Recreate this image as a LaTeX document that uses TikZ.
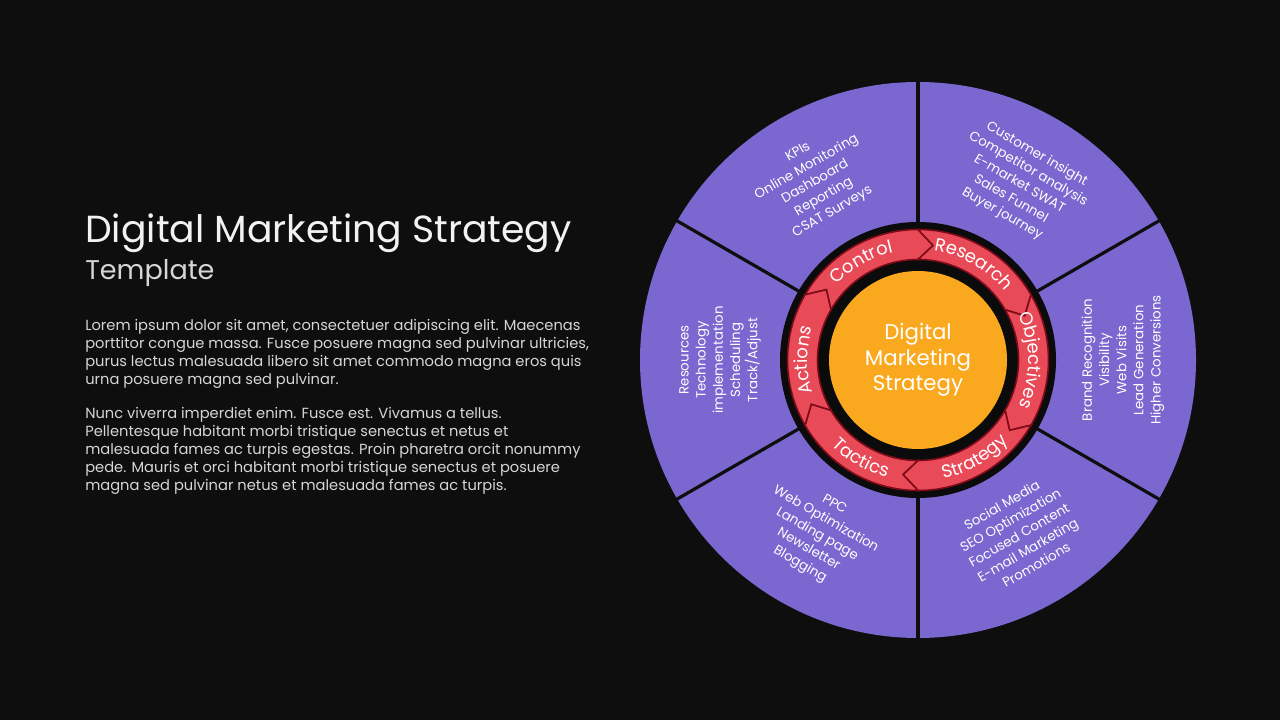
\documentclass[tikz,border=0pt]{standalone}
\usepackage{fontspec}
\setmainfont{Poppins}
\usetikzlibrary{decorations.text,calc}
\definecolor{bg}{HTML}{0E0E0E}
\definecolor{purp}{HTML}{7A67CF}
\definecolor{ringblack}{HTML}{0B0B0B}
\definecolor{redfill}{HTML}{E94A58}
\definecolor{redline}{HTML}{7E0B18}
\definecolor{orangec}{HTML}{FAA81E}
\definecolor{titlec}{HTML}{F2F2F2}
\definecolor{bodyc}{HTML}{D6D6D6}
\newcommand{\ringfont}{\fontsize{13.5}{16}\selectfont\color{white}}
\tikzset{
  sepline/.style={draw=bg, line width=2.4pt},
  redseg/.style={fill=redfill, draw=redline, line width=1.2pt, line join=miter},
  sectxt/.style={text=white, align=center, inner sep=0pt, font=\fontsize{10}{12.9}\selectfont},
  centxt/.style={text=white, align=center, inner sep=0pt, font=\fontsize{16}{19}\selectfont},
  titletxt/.style={text=titlec, inner sep=0pt, font=\fontsize{28.3}{34}\selectfont},
  subtxt/.style={text=bodyc, inner sep=0pt, font=\fontsize{20.3}{24}\selectfont},
  bodytxt/.style={text=bodyc, inner sep=0pt, align=left, font=\fontsize{11}{13.5}\selectfont},
  ringlabel/.style={decorate, decoration={text along path, text align=center, text={|\ringfont|#1}}}
}
\begin{document}
\begin{tikzpicture}[x=0.75pt,y=0.75pt]
\fill[bg] (0,0) rectangle (1280,720);
\useasboundingbox (0,0) rectangle (1280,720);
\coordinate (C) at (918,360);
% outer purple wheel
\fill[purp] (C) circle[radius=278];
\foreach \a in {30,90,150,210,270,330}
  \draw[sepline] ($(C)+(\a:130)$) -- ($(C)+(\a:280)$);
% black ring
\fill[ringblack] (C) circle[radius=138];
% red arrow segments
\foreach \s in {150,90,30,-30,-90,-150} {
  \pgfmathsetmacro\e{\s-60}
  \pgfmathsetmacro\t{\e-7.5}
  \pgfmathsetmacro\n{\s-7.5}
  \filldraw[redseg] ($(C)+(\s:130.5)$) arc[start angle=\s, end angle=\e, radius=130.5]
    -- ($(C)+(\t:115.5)$) -- ($(C)+(\e:100.5)$)
    arc[start angle=\e, end angle=\s, radius=100.5]
    -- ($(C)+(\n:115.5)$) -- cycle;
}
% centre
\fill[orangec] (C) circle[radius=89];
\node[centxt] (centre) at (C) {Digital\\Marketing\\Strategy};
% ring labels
\path[ringlabel=Control] ($(C)+(150:110.5)$) arc[start angle=150, end angle=90, radius=110.5];
\path[ringlabel=Research] ($(C)+(90:110.5)$) arc[start angle=90, end angle=30, radius=110.5];
\path[ringlabel=Objectives] ($(C)+(30:110.5)$) arc[start angle=30, end angle=-30, radius=110.5];
\path[ringlabel=Actions] ($(C)+(210:110.5)$) arc[start angle=210, end angle=150, radius=110.5];
\path[ringlabel=Strategy] ($(C)+(-90:121.5)$) arc[start angle=-90, end angle=-30, radius=121.5];
\path[ringlabel=Tactics] ($(C)+(-150:121.5)$) arc[start angle=-150, end angle=-90, radius=121.5];
% sector texts
\node[sectxt, rotate=30] (control) at ($(C)+(120:205)$) {KPIs\\Online Monitoring\\Dashboard\\Reporting\\CSAT Surveys};
\node[sectxt, rotate=-30] (research) at ($(C)+(60:203)$) {Customer insight\\Competitor analysis\\E-market SWAT\\Sales Funnel\\Buyer journey};
\node[sectxt, rotate=90] (objectives) at ($(C)+(0:205)$) {Brand Recognition\\Visibility\\Web Visits\\Lead Generation\\Higher Conversions};
\node[sectxt, rotate=90] (actions) at ($(C)+(180:198)$) {Resources\\Technology\\implementation\\Scheduling\\Track/Adjust};
\node[sectxt, rotate=-30] (tactics) at ($(C)+(240:202)$) {PPC\\Web Optimization\\Landing page\\Newsletter\\Blogging};
\node[sectxt, rotate=30] (strategy) at ($(C)+(300:202)$) {Social Media\\SEO Optimization\\Focused Content\\E-mail Marketing\\Promotions};
% left column
\node[titletxt, anchor=base west] (title) at (85,477) {Digital Marketing Strategy};
\node[subtxt, anchor=base west] (subtitle) at (85,440) {Template};
\node[bodytxt, anchor=north west] (para1) at (85,401) {Lorem ipsum dolor sit amet, consectetuer adipiscing elit. Maecenas\\porttitor congue massa. Fusce posuere magna sed pulvinar ultricies,\\purus lectus malesuada libero sit amet commodo magna eros quis\\urna posuere magna sed pulvinar.};
\node[bodytxt, anchor=north west] (para2) at (85,313) {Nunc viverra imperdiet enim. Fusce est. Vivamus a tellus.\\Pellentesque habitant morbi tristique senectus et netus et\\malesuada fames ac turpis egestas. Proin pharetra orcit nonummy\\pede. Mauris et orci habitant morbi tristique senectus et posuere\\magna sed pulvinar netus et malesuada fames ac turpis.};
\end{tikzpicture}
\end{document}
